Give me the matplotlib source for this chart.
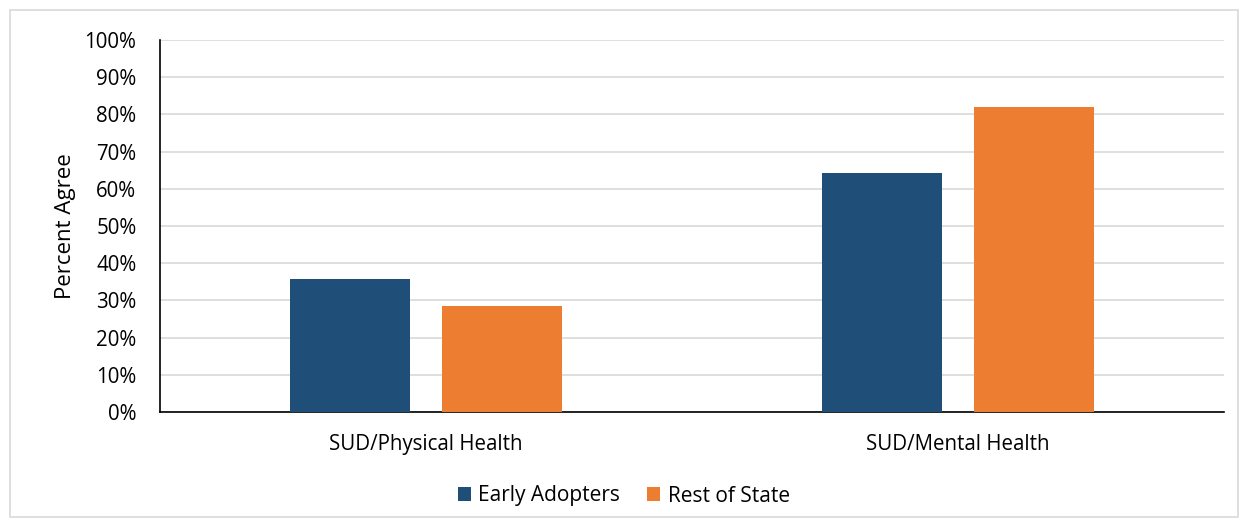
import matplotlib.pyplot as plt
import numpy as np
from matplotlib.patches import Rectangle
from matplotlib.ticker import PercentFormatter

categories = ["SUD/Physical Health", "SUD/Mental Health"]
early_adopters = [35.7, 64.3]
rest_of_state = [28.6, 82.1]
series_names = ["Early Adopters", "Rest of State"]
colors = ["#1F4E79", "#ED7D31"]

plt.rcParams['font.family'] = ['Open Sans', 'DejaVu Sans']

fig = plt.figure(figsize=(12.48, 5.27), dpi=100)
ax = fig.add_axes([160 / 1248, 1 - 412 / 527, 1064 / 1248, 372 / 527])

# outer chart border
fig.patches.append(Rectangle((10 / 1248, 10 / 527), 1228 / 1248, 507 / 527, transform=fig.transFigure,
                             fill=False, edgecolor='#d9d9d9', linewidth=1.2))

x = np.arange(len(categories))
width = 0.224
offset = (width + 0.062) / 2
ax.bar(x - offset, early_adopters, width, color=colors[0], label=series_names[0], zorder=3)
ax.bar(x + offset, rest_of_state, width, color=colors[1], label=series_names[1], zorder=3)

ax.set_xlim(-0.5, 1.5)
ax.set_ylim(0, 100)
ax.set_yticks(np.arange(0, 101, 10))
ax.yaxis.set_major_formatter(PercentFormatter(decimals=0))
ax.set_xticks(x)
ax.set_xticklabels(categories, fontsize=14.8)
ax.tick_params(axis='y', labelsize=14.8, length=0, pad=17)
ax.tick_params(axis='x', length=0, pad=16)
ax.grid(axis='y', color='#d9d9d9', linewidth=1.2, zorder=0)
for side in ['top', 'right']:
    ax.spines[side].set_visible(False)
ax.spines['left'].set_color('black')
ax.spines['bottom'].set_color('black')
ax.spines['left'].set_linewidth(1.2)
ax.spines['bottom'].set_linewidth(1.2)
ax.set_ylabel('Percent Agree', fontsize=16, labelpad=6)

fig.legend(loc='center', bbox_to_anchor=(0.5, 1 - 496 / 527), ncol=2, frameon=False, fontsize=15,
           handlelength=0.62, handleheight=0.62, handletextpad=0.35, columnspacing=1.3)

fig.savefig('out.png', dpi=100)
